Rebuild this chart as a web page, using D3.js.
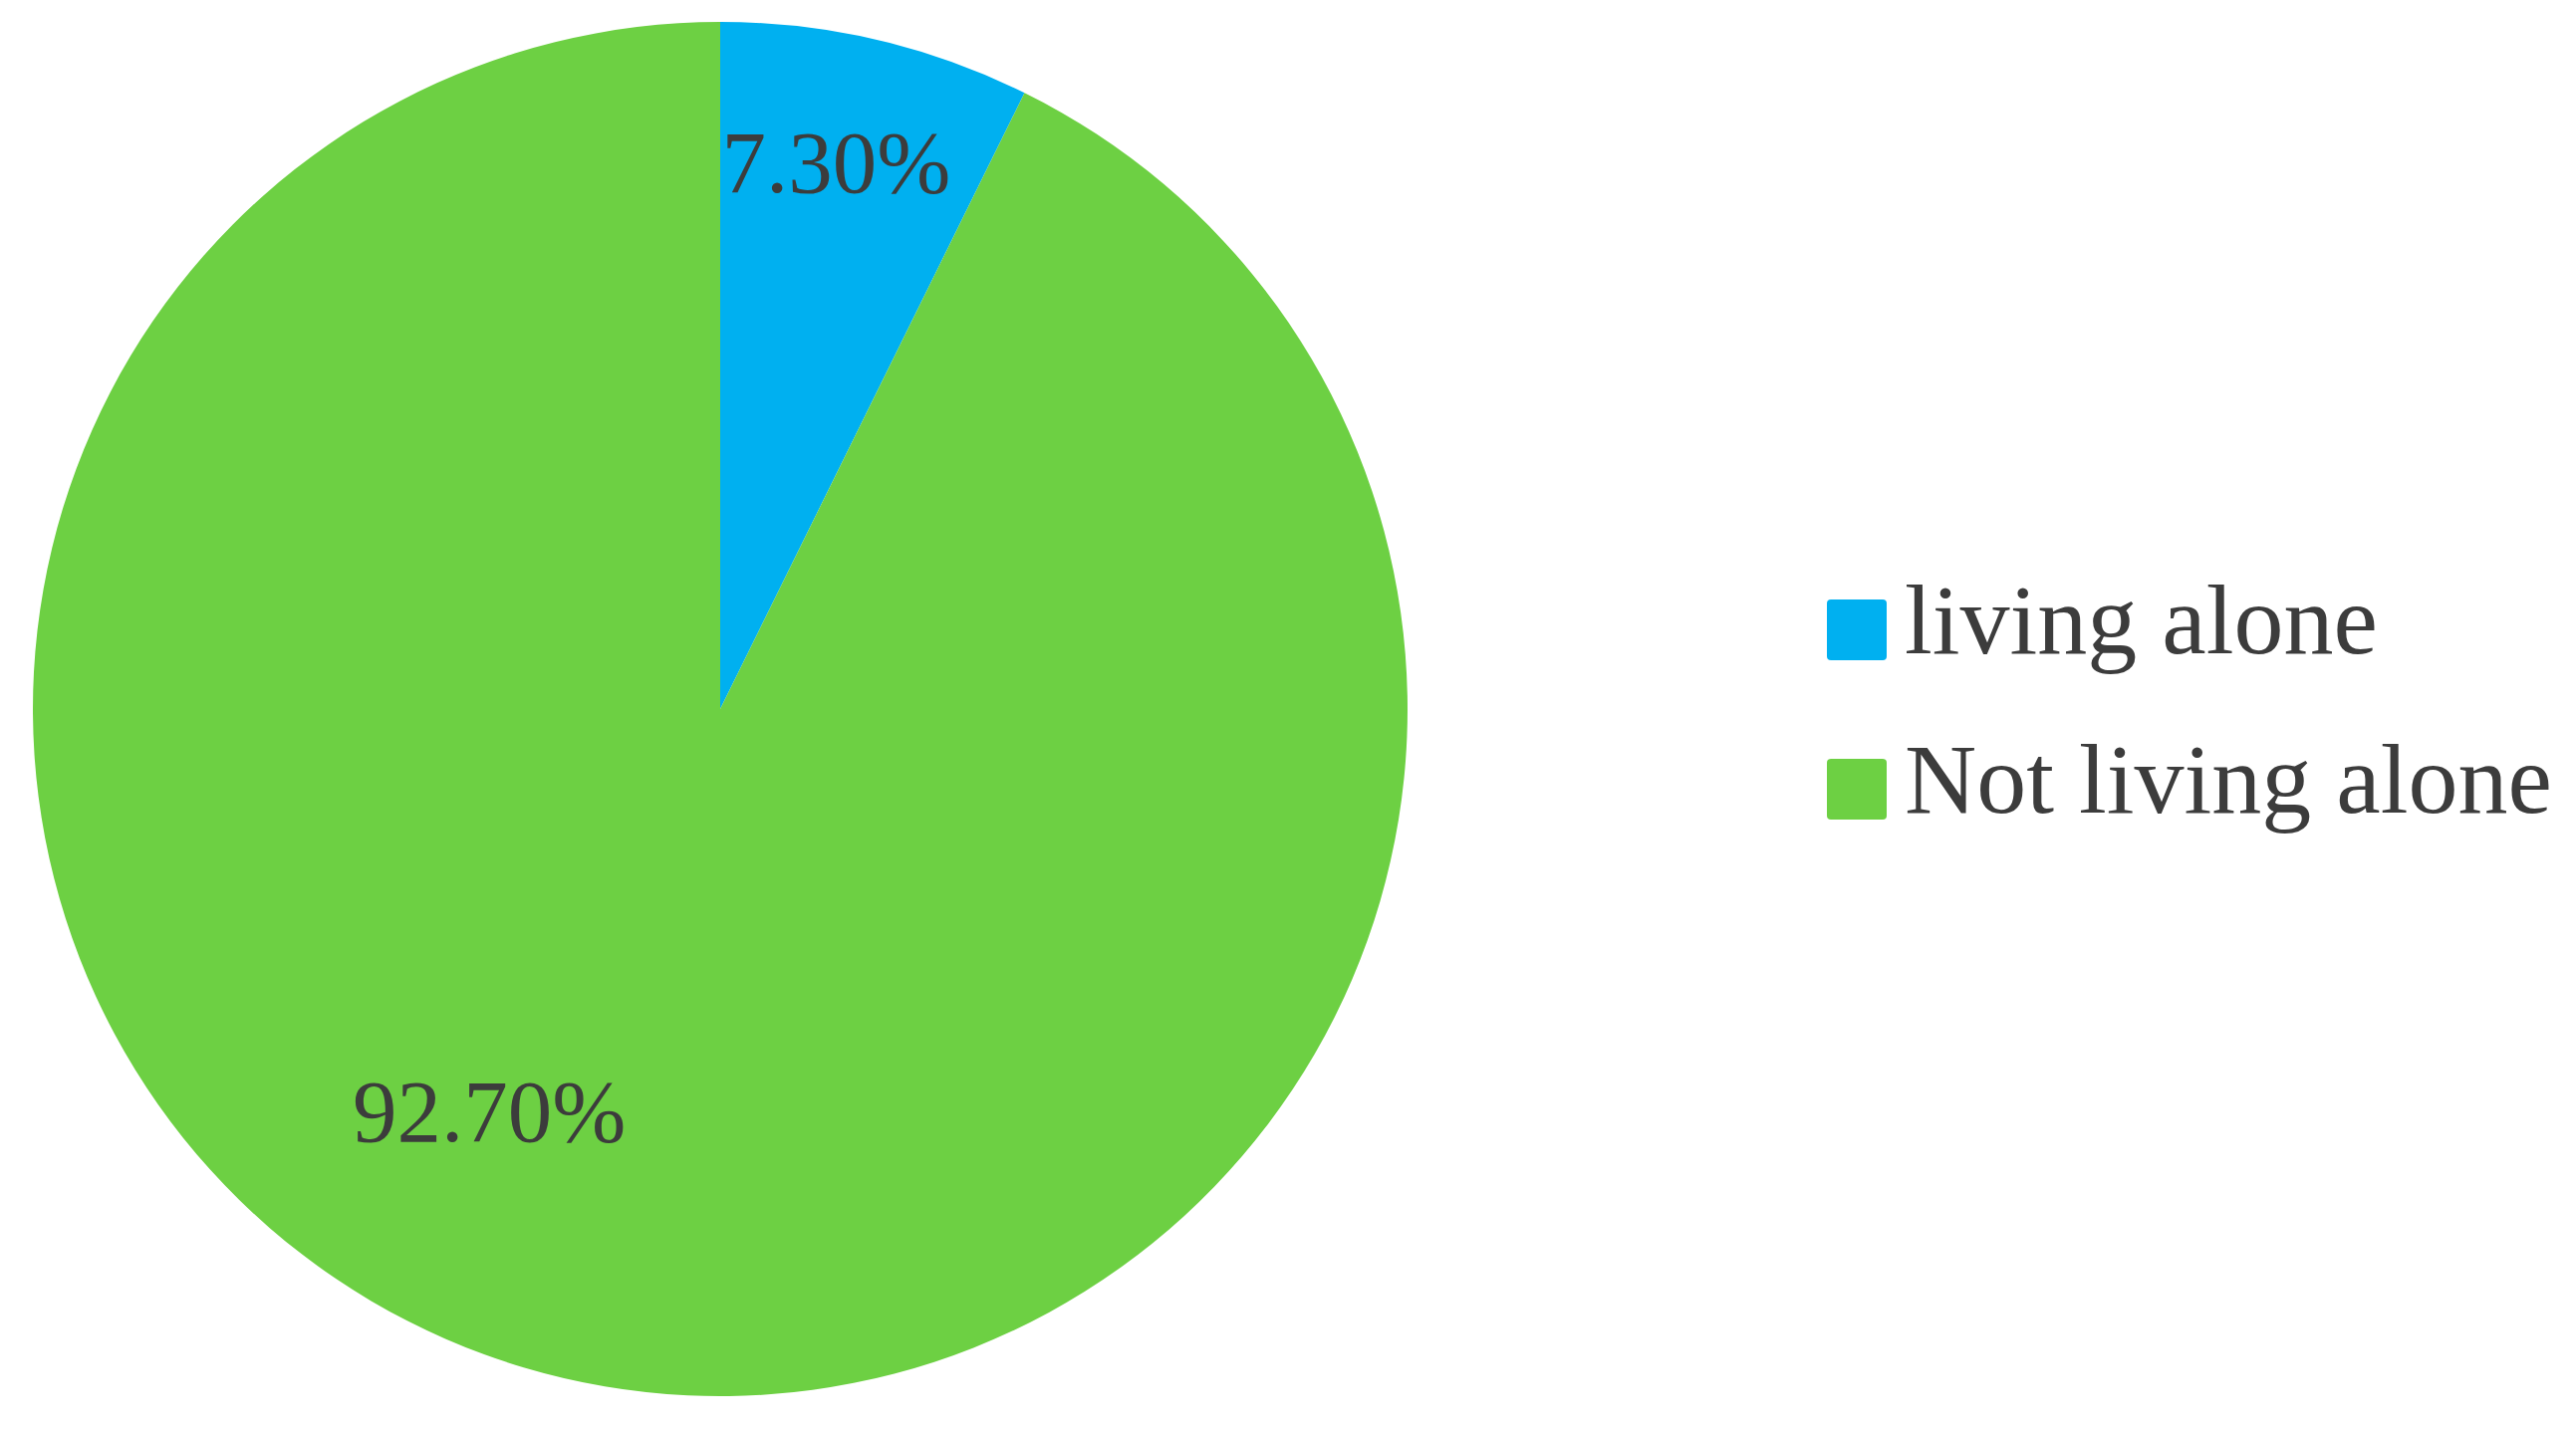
<!DOCTYPE html>
<html>
<head>
<meta charset="utf-8">
<script src="https://cdn.jsdelivr.net/npm/d3@7"></script>
<style>
  html, body { margin: 0; padding: 0; background: #fff; }
  svg { display: block; }
</style>
</head>
<body>
<svg id="canvas" width="2586" height="1437"></svg>
<script>
// data
var categories = ["living alone", "Not living alone"];
var values = [7.3, 92.7];
var labels = ["7.30%", "92.70%"];
var colors = ["#00b0f0", "#6dd043"];

// where the percent labels sit (fraction of radius, degrees off the slice middle)
var labelRadius = [0.815, 0.673];
var labelShift = [-1.2, 16.8];

var width = 2586, height = 1437;
var center = {x: 723, y: 712};
var radius = 690;

var svg = d3.select("#canvas");

svg.append("rect")
	.attr("width", width)
	.attr("height", height)
	.attr("fill", "#fff");

var pie = d3.pie().sort(null).value(function(d) { return d; });
var arcs = pie(values);

var arc = d3.arc().innerRadius(0).outerRadius(radius);

var pieGroup = svg.append("g")
	.attr("transform", "translate(" + center.x + "," + center.y + ")");

pieGroup.selectAll("path")
	.data(arcs)
	.enter().append("path")
	.attr("d", arc)
	.attr("fill", function(d, i) { return colors[i]; });

pieGroup.selectAll("text")
	.data(arcs)
	.enter().append("text")
	.attr("transform", function(d, i) {
		var a = (d.startAngle + d.endAngle) / 2 + labelShift[i] * Math.PI / 180;
		var r = radius * labelRadius[i];
		return "translate(" + (Math.sin(a) * r) + "," + (-Math.cos(a) * r) + ")";
	})
	.attr("dy", "0.35em")
	.attr("text-anchor", "middle")
	.style("font-family", "'Liberation Serif', 'Times New Roman', serif")
	.style("font-size", "89px")
	.style("fill", "#3c3c3c")
	.text(function(d, i) { return labels[i]; });

// legend
var legendY = d3.scalePoint()
	.domain(categories)
	.range([632, 792]);

var legend = svg.append("g")
	.selectAll("g")
	.data(categories)
	.enter().append("g")
	.attr("transform", function(d) { return "translate(1834," + legendY(d) + ")"; });

legend.append("rect")
	.attr("x", 0)
	.attr("y", -30)
	.attr("width", 60)
	.attr("height", 61)
	.attr("rx", 4)
	.attr("fill", function(d, i) { return colors[i]; });

legend.append("text")
	.attr("x", 78)
	.attr("y", 24)
	.style("font-family", "'Liberation Serif', 'Times New Roman', serif")
	.style("font-size", "100px")
	.style("fill", "#3c3c3c")
	.text(function(d) { return d; });
</script>
</body>
</html>
